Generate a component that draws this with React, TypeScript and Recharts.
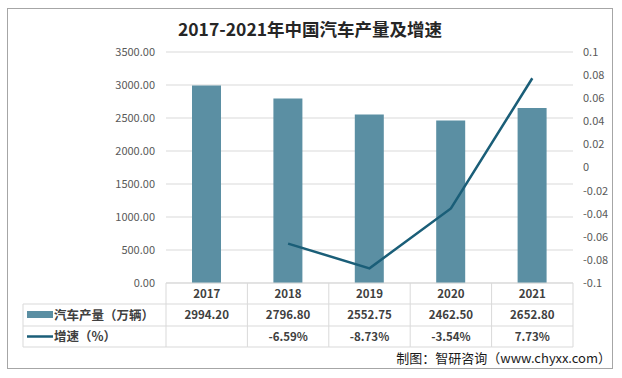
import React from 'react';
import { ComposedChart, Bar, Line, XAxis, YAxis, CartesianGrid } from 'recharts';

const years = ['2017', '2018', '2019', '2020', '2021'];
const production = [2994.2, 2796.8, 2552.75, 2462.5, 2652.8];
const growth: (number | null)[] = [null, -0.0659, -0.0873, -0.0354, 0.0773];
const leftTicks = [0, 500, 1000, 1500, 2000, 2500, 3000, 3500];
const rightTicks = [-0.1, -0.08, -0.06, -0.04, -0.02, 0, 0.02, 0.04, 0.06, 0.08, 0.1];
const title = '2017-2021年中国汽车产量及增速';
const barName = '汽车产量（万辆）';
const lineName = '增速（%）';
const source = '制图：智研咨询（www.chyxx.com）';

const data = years.map((y, i) => ({ year: y, production: production[i], growth: growth[i] }));

const W = 622;
const H = 378;
const PLOT_L = 166;
const PLOT_R = 573;
const PLOT_T = 52;
const PLOT_B = 283;
const CELL_W = (PLOT_R - PLOT_L) / years.length;
const ROW1 = 304;
const ROW2 = 326;
const ROW3 = 347;
const TABLE_L = 23;
const BAR_COLOR = '#5B8FA3';
const LINE_COLOR = '#1A5E78';
const GRID = '#D9D9D9';
const FONT = '"Noto Sans CJK SC", "Noto Sans", sans-serif';

const TableTick = (props: any) => {
  const { x, index, payload } = props;
  const i = years.indexOf(payload.value);
  const g = growth[i];
  const left = x - CELL_W / 2;
  const right = x + CELL_W / 2;
  return (
    <g>
      <line x1={left} y1={PLOT_B} x2={left} y2={ROW3} stroke={GRID} />
      {index === years.length - 1 && <line x1={right} y1={PLOT_B} x2={right} y2={ROW3} stroke={GRID} />}
      <line x1={left} y1={ROW1} x2={right} y2={ROW1} stroke={GRID} />
      <line x1={left} y1={ROW2} x2={right} y2={ROW2} stroke={GRID} />
      <line x1={left} y1={ROW3} x2={right} y2={ROW3} stroke={GRID} />
      <text x={x} y={(PLOT_B + ROW1) / 2 + 4} textAnchor="middle" fontSize={11.5} fontWeight={700} fill="#404040" fontFamily={FONT}>
        {payload.value}
      </text>
      <text x={x} y={(ROW1 + ROW2) / 2 + 4} textAnchor="middle" fontSize={11.5} fontWeight={700} fill="#404040" fontFamily={FONT}>
        {production[i].toFixed(2)}
      </text>
      {g !== null && (
        <text x={x} y={(ROW2 + ROW3) / 2 + 4} textAnchor="middle" fontSize={11.5} fontWeight={700} fill="#404040" fontFamily={FONT}>
          {(g * 100).toFixed(2) + '%'}
        </text>
      )}
    </g>
  );
};

const fmtRight = (v: number) => String(parseFloat(v.toFixed(2)));

export default function App() {
  return (
    <div style={{ position: 'absolute', left: 0, top: 0, width: W, height: H, background: '#fff', fontFamily: FONT }}>
      <div
        style={{
          position: 'absolute',
          left: 7,
          top: 8,
          width: 606,
          height: 361,
          border: '1px solid #A6A6A6',
          boxSizing: 'border-box',
        }}
      />
      <ComposedChart width={W} height={H} data={data} margin={{ top: PLOT_T, right: 0, left: 0, bottom: 0 }}>
        <CartesianGrid vertical={false} stroke={GRID} yAxisId="left" />
        <XAxis
          dataKey="year"
          xAxisId={0}
          height={H - PLOT_B}
          axisLine={{ stroke: GRID }}
          tickLine={false}
          interval={0}
          tick={<TableTick />}
        />
        <YAxis
          yAxisId="left"
          orientation="left"
          width={PLOT_L}
          domain={[0, 3500]}
          ticks={leftTicks}
          axisLine={false}
          tickLine={false}
          tickMargin={5}
          tickFormatter={(v: number) => v.toFixed(2)}
          tick={{ fontSize: 11, fill: '#595959', fontFamily: FONT }}
        />
        <YAxis
          yAxisId="right"
          orientation="right"
          width={W - PLOT_R}
          domain={[-0.1, 0.1]}
          ticks={rightTicks}
          axisLine={false}
          tickLine={false}
          tickMargin={4}
          tickFormatter={fmtRight}
          tick={{ fontSize: 11, fill: '#595959', fontFamily: FONT }}
        />
        <Bar yAxisId="left" dataKey="production" name={barName} fill={BAR_COLOR} barSize={29} isAnimationActive={false} />
        <Line
          yAxisId="right"
          dataKey="growth"
          name={lineName}
          stroke={LINE_COLOR}
          strokeWidth={2.5}
          dot={false}
          activeDot={false}
          type="linear"
          connectNulls={false}
          isAnimationActive={false}
        />
      </ComposedChart>
      <svg width={W} height={H} style={{ position: 'absolute', left: 0, top: 0, pointerEvents: 'none' }}>
        <text x={310} y={36} textAnchor="middle" fontSize={17.5} fontWeight={700} fill="#262626" fontFamily={FONT}>
          {title}
        </text>
        <line x1={TABLE_L} y1={ROW1} x2={PLOT_L} y2={ROW1} stroke={GRID} />
        <line x1={TABLE_L} y1={ROW2} x2={PLOT_L} y2={ROW2} stroke={GRID} />
        <line x1={TABLE_L} y1={ROW3} x2={PLOT_L} y2={ROW3} stroke={GRID} />
        <line x1={TABLE_L} y1={ROW1} x2={TABLE_L} y2={ROW3} stroke={GRID} />
        <rect x={27} y={311} width={26} height={7} fill={BAR_COLOR} />
        <text x={54} y={(ROW1 + ROW2) / 2 + 4.5} fontSize={12.5} fontWeight={700} fill="#404040" fontFamily={FONT}>
          {barName}
        </text>
        <line x1={27} y1={(ROW2 + ROW3) / 2} x2={53} y2={(ROW2 + ROW3) / 2} stroke={LINE_COLOR} strokeWidth={2.5} />
        <text x={54} y={(ROW2 + ROW3) / 2 + 4.5} fontSize={12.5} fontWeight={700} fill="#404040" fontFamily={FONT}>
          {lineName}
        </text>
        <text x={611} y={363} textAnchor="end" fontSize={13} fill="#1a1a1a" fontFamily={FONT}>
          {source}
        </text>
      </svg>
    </div>
  );
}
